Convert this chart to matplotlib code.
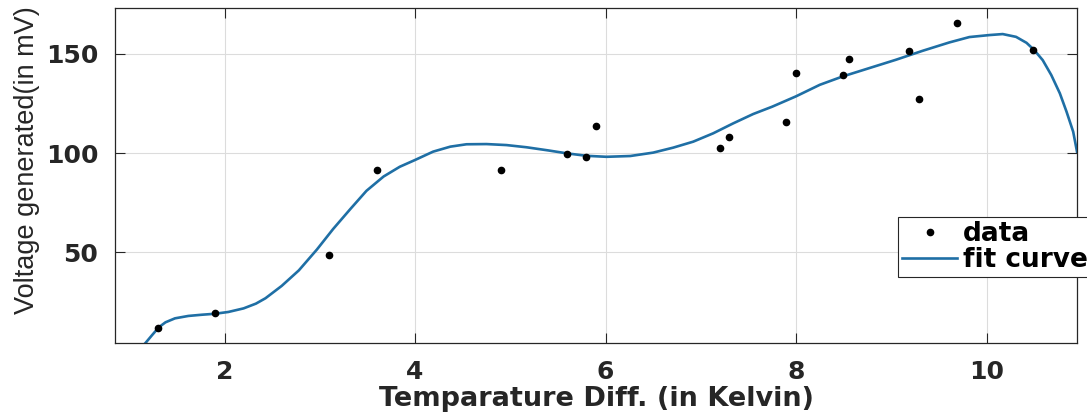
import numpy as np
import matplotlib
matplotlib.use("Agg")
import matplotlib.pyplot as plt

# measured points (temperature difference in K, voltage in mV)
temp_diff = [1.30, 1.90, 3.10, 3.60, 4.90, 5.60, 5.80, 5.90, 7.20, 7.30,
             7.90, 8.00, 8.49, 8.56, 9.19, 9.29, 9.69, 10.49]
voltage = [11.9, 19.7, 48.6, 91.5, 91.5, 99.3, 98.0, 113.7, 102.7, 108.2,
           115.7, 140.1, 139.2, 147.2, 151.1, 127.3, 165.2, 151.9]

# fitted curve
fit_x = [1.10, 1.17, 1.24, 1.31, 1.38, 1.48, 1.62, 1.76, 1.90, 2.04,
         2.20, 2.33, 2.43, 2.60, 2.78, 2.97, 3.14, 3.32, 3.49, 3.67,
         3.84, 4.00, 4.19, 4.37, 4.54, 4.75, 4.96, 5.17, 5.40, 5.60,
         5.80, 6.01, 6.26, 6.50, 6.71, 6.92, 7.13, 7.34, 7.55, 7.75,
         8.00, 8.25, 8.49, 8.77, 9.05, 9.33, 9.61, 9.82, 10.03, 10.17,
         10.31, 10.42, 10.50, 10.59, 10.68, 10.77, 10.84, 10.91, 10.95]
fit_y = [1.0, 4.5, 8.5, 12.4, 14.9, 16.9, 18.1, 18.7, 19.2, 20.1,
         21.9, 24.3, 27.0, 33.2, 41.0, 51.5, 61.8, 71.8, 81.0, 88.2,
         93.1, 96.5, 100.7, 103.2, 104.4, 104.5, 104.0, 102.9, 101.3, 99.8,
         98.6, 98.1, 98.5, 100.2, 102.7, 105.7, 109.9, 114.9, 119.6, 123.3,
         128.5, 134.3, 138.5, 142.7, 146.9, 151.4, 155.6, 158.3, 159.3, 159.8,
         158.4, 155.4, 151.8, 146.7, 139.2, 130.0, 120.8, 110.7, 100.7]

x_ticks = [2, 4, 6, 8, 10]
y_ticks = [50, 100, 150]

plt.rcParams['font.family'] = ['Liberation Sans', 'DejaVu Sans']
bold = {'family': 'DejaVu Sans', 'weight': 'bold', 'size': 18}

fig = plt.figure(figsize=(10.87, 4.13), dpi=100)
ax = fig.add_axes([0.1058, 0.1695, 0.885, 0.8111])

ax.plot(temp_diff, voltage, 'o', color='black', markersize=4.5, label='data', zorder=3)
ax.plot(fit_x, fit_y, '-', color='#1f6fa5', linewidth=1.9, label='fit curve', zorder=2)

ax.set_xlim(0.85, 10.95)
ax.set_ylim(4.5, 172.9)
ax.set_xticks(x_ticks)
ax.set_yticks(y_ticks)
ax.grid(True, color='#dcdcdc', linewidth=0.8)
ax.set_axisbelow(True)

ax.tick_params(direction='in', length=7, width=0.8, top=True, right=True,
               pad=12, color='#262626')
for lab in ax.get_xticklabels() + ax.get_yticklabels():
    lab.set_fontproperties(bold)
    lab.set_color('#262626')
for sp in ax.spines.values():
    sp.set_color('#262626')
    sp.set_linewidth(0.9)

ax.set_xlabel('Temparature Diff. (in Kelvin)', family='DejaVu Sans', fontweight='bold',
              fontsize=19.5, color='#262626', labelpad=2)
ax.set_ylabel('Voltage generated(in mV)', fontsize=19.5, color='#262626')
ax.yaxis.set_label_coords(-0.078, 0.546)

leg = ax.legend(loc='upper left', bbox_to_anchor=(0.814, 0.376),
                prop={'family': 'DejaVu Sans', 'weight': 'bold', 'size': 19},
                fancybox=False, framealpha=1,
                edgecolor='#262626', borderpad=0.15, handlelength=2.1,
                handletextpad=0.2, labelspacing=0.0, borderaxespad=0)
leg.get_frame().set_linewidth(0.8)

fig.savefig('out.png', dpi=100)
